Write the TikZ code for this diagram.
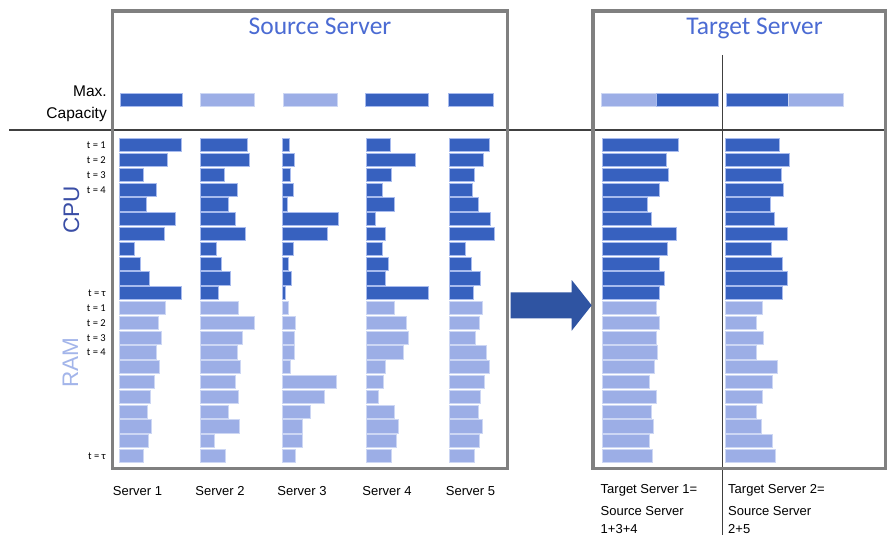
\documentclass[tikz,border=0pt]{standalone}
\usepackage{fontspec}
\setmainfont{Liberation Sans}
\newfontfamily\calfont{Carlito}
\definecolor{darkbar}{HTML}{3761BF}
\definecolor{darkedge}{HTML}{A8BBEE}
\definecolor{lightbar}{HTML}{9CAEE6}
\definecolor{lightedge}{HTML}{CDD7F4}
\definecolor{titleblue}{HTML}{4B6BD3}
\definecolor{cpublue}{HTML}{3A4EA6}
\definecolor{ramblue}{HTML}{A3B5EA}
\definecolor{boxgray}{HTML}{808080}
\definecolor{linegray}{HTML}{404040}
\definecolor{arrowblue}{HTML}{2F54A2}
\newcommand\barcol[4]{%
  \foreach \e [count=\i] in {#4} {%
    \pgfmathsetmacro\yc{145.3+14.8*(\i-1+#2)}%
    \draw[#3] (#1,\yc-6.6) rectangle (\e,\yc+6.6);
  }}
\begin{document}
\begin{tikzpicture}[x=1pt,y=-1pt,
  cpubar/.style={fill=darkbar,draw=darkedge,line width=1pt},
  rambar/.style={fill=lightbar,draw=lightedge,line width=1pt},
  frame/.style={draw=boxgray,line width=3.5pt},
  divider/.style={draw=linegray,line width=1.1pt},
  title/.style={font=\calfont\fontsize{25.5}{30}\selectfont,text=titleblue,anchor=base,inner sep=0pt},
  tlab/.style={font=\calfont\fontsize{10.5}{12}\selectfont,anchor=east,inner sep=0pt},
  caplab/.style={font=\fontsize{15.5}{18}\selectfont,anchor=base east,inner sep=0pt},
  reslab/.style={font=\fontsize{22.5}{26}\selectfont,rotate=90,inner sep=0pt},
  srvlab/.style={font=\fontsize{13}{15}\selectfont,anchor=base,inner sep=0pt},
  tgtlab/.style={font=\fontsize{13}{15}\selectfont,anchor=base west,inner sep=0pt}]
\useasboundingbox (0,0) rectangle (888,535);
\fill[white] (0,0) rectangle (888,535);

% divider lines
\coordinate (hl) at (9,130);
\coordinate (hr) at (886,130);
\coordinate (vt) at (722.7,55);
\coordinate (vb) at (722.7,535);
\draw[divider] (hl) -- (hr);
\draw[divider] (vt) -- (vb);

% frames
\draw[frame] (112.7,10.8) rectangle (507.7,468.3);
\draw[frame] (593.2,10.8) rectangle (885.3,468.3);

% titles
\node[title] (srcT) at (320,35) {Source Server};
\node[title] (tgtT) at (754.5,35) {Target Server};

% max capacity
\node[caplab] (maxA) at (107,96.5) {Max.};
\node[caplab] (maxB) at (107,118) {Capacity};
\draw[cpubar] (120,93.4) rectangle (182.3,106.6);
\draw[rambar] (200.3,93.4) rectangle (254.3,106.6);
\draw[rambar] (283.3,93.4) rectangle (337.7,106.6);
\draw[cpubar] (365.7,93.4) rectangle (428.3,106.6);
\draw[cpubar] (448,93.4) rectangle (493.3,106.6);
\draw[rambar] (601.7,93.4) rectangle (656.7,106.6);
\draw[cpubar] (656,93.4) rectangle (718.3,106.6);
\draw[cpubar] (726,93.4) rectangle (788.3,106.6);
\draw[rambar] (788.3,93.4) rectangle (843.3,106.6);

% resource labels
\node[reslab,text=cpublue] (cpu) at (71.5,210) {CPU};
\node[reslab,text=ramblue] (ram) at (70.5,362.5) {RAM};

% time labels
\node[tlab] (c1) at (106,145.3) {t = 1};
\node[tlab] (c2) at (106,160.1) {t = 2};
\node[tlab] (c3) at (106,174.9) {t = 3};
\node[tlab] (c4) at (106,189.7) {t = 4};
\node[tlab] (cT) at (106,293.3) {t = τ};
\node[tlab] (r1) at (106,308.1) {t = 1};
\node[tlab] (r2) at (106,322.9) {t = 2};
\node[tlab] (r3) at (106,337.7) {t = 3};
\node[tlab] (r4) at (106,352.5) {t = 4};
\node[tlab] (rT) at (106,456.1) {t = τ};

% source servers CPU
\barcol{119}{0}{cpubar}{181,167.7,143,156.7,146.7,175,164,134.7,140,149.7,181}
\barcol{200.3}{0}{cpubar}{247,249.3,224.7,237.7,228,235.7,245.3,216,221.3,230.3,218.7}
\barcol{282}{0}{cpubar}{289.7,294,290.3,293.3,287.3,338.3,327,293,288.3,291.7,285.7}
\barcol{366.3}{0}{cpubar}{390,415.3,391,382.7,394.3,375.3,385,382.3,388,385,428.3}
\barcol{449.7}{0}{cpubar}{489.7,483.7,474.3,472.7,478,490.7,494.7,465.7,471,480.3,473.3}
% source servers RAM
\barcol{119}{11}{rambar}{165.7,158.7,161.3,156,159.3,154,150.3,147.3,151,148.7,143.7}
\barcol{200.3}{11}{rambar}{238.3,254,242.7,237,240.3,235.3,238.3,228.7,239.3,214.7,225}
\barcol{282}{11}{rambar}{288,295.3,294,294.7,290.7,336,324,310.3,302.3,302.3,295.3}
\barcol{366.3}{11}{rambar}{394,406,408.7,403,385.3,383.7,378,394.7,398.7,396,391}
\barcol{449.7}{11}{rambar}{482.3,479.3,475.3,486.7,489.7,484.3,480.7,478,482,479,474.3}
% target servers
\barcol{602.5}{0}{cpubar}{678,666.3,668,659.7,647,651.3,676.7,667.3,659.3,664,659.3}
\barcol{725.8}{0}{cpubar}{779,789.3,781.3,783,770.3,774.3,787,771.7,782.7,787,782.7}
\barcol{602.5}{11}{rambar}{656,659.3,656.3,657,654,649.3,656,651.7,653.3,649.3,652.3}
\barcol{725.8}{11}{rambar}{762.7,756.7,763.3,756.7,777,772.7,762,756.3,761.7,772.3,775}

% migration arrow
\fill[arrowblue] (510.7,292.3) -- (571.7,292.3) -- (571.7,280) -- (591.7,305.3)
  -- (571.7,330.7) -- (571.7,318.3) -- (510.7,318.3) -- cycle;

% server labels
\node[srvlab] (s1) at (137.5,495.5) {Server 1};
\node[srvlab] (s2) at (220,495.5) {Server 2};
\node[srvlab] (s3) at (302,495.5) {Server 3};
\node[srvlab] (s4) at (387,495.5) {Server 4};
\node[srvlab] (s5) at (470.5,495.5) {Server 5};
\node[tgtlab] (t1a) at (600.5,493.5) {Target Server 1=};
\node[tgtlab] (t1b) at (600.5,515.5) {Source Server};
\node[tgtlab] (t1c) at (600.5,533) {1+3+4};
\node[tgtlab] (t2a) at (728,493.5) {Target Server 2=};
\node[tgtlab] (t2b) at (728,515.5) {Source Server};
\node[tgtlab] (t2c) at (728,533) {2+5};
\end{tikzpicture}
\end{document}
